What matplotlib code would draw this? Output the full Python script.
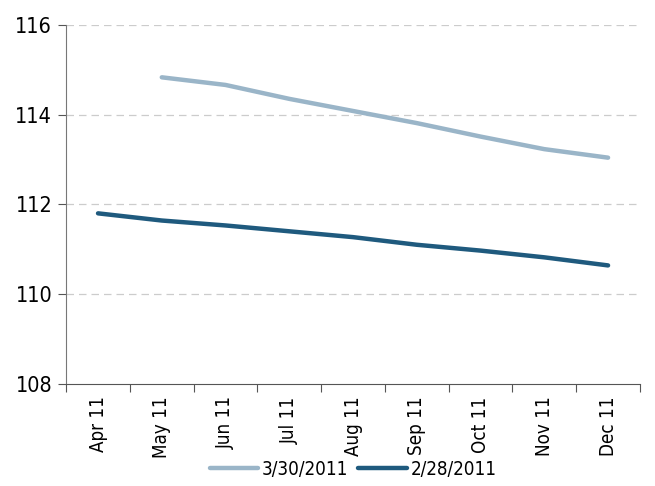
import matplotlib
matplotlib.use("Agg")
import matplotlib.pyplot as plt
import numpy as np

plt.rcParams['font.family'] = ['DejaVu Sans']
plt.rcParams['font.stretch'] = 'condensed'

months = ["Apr 11", "May 11", "Jun 11", "Jul 11", "Aug 11", "Sep 11", "Oct 11", "Nov 11", "Dec 11"]
curve_mar30 = [np.nan, 114.83, 114.66, 114.35, 114.08, 113.81, 113.51, 113.23, 113.04]
curve_feb28 = [111.80, 111.64, 111.53, 111.40, 111.27, 111.10, 110.97, 110.82, 110.64]

light = "#9ab5c8"
dark = "#1f5a7e"

fig = plt.figure(figsize=(6.55, 4.86), dpi=100)
ax = fig.add_axes([0.101, 0.21, 0.876, 0.739])

x = np.arange(len(months))
ax.plot(x, curve_mar30, color=light, lw=3.2, solid_capstyle="round", label="3/30/2011")
ax.plot(x, curve_feb28, color=dark, lw=3.2, solid_capstyle="round", label="2/28/2011")

ax.set_xlim(-0.5, len(months) - 0.5)
ax.set_ylim(108, 116)
ax.set_yticks([108, 110, 112, 114, 116])
ax.set_yticklabels(["108", "110", "112", "114", "116"], fontsize=15.5)
for yv in [110, 112, 114, 116]:
    ax.axhline(yv, color="#cccccc", lw=0.9, ls=(0, (6, 4)), zorder=0)

# ticks between categories, labels centred
ax.set_xticks(np.arange(-0.5, len(months), 1.0))
ax.set_xticklabels([])
ax.set_xticks(x, minor=True)
ax.set_xticklabels(months, minor=True, rotation=90, fontsize=13.5)
ax.tick_params(axis="x", which="minor", length=0, pad=9)
ax.tick_params(axis="x", which="major", length=6, direction="out", color="#555555")
ax.tick_params(axis="y", length=6, direction="out", color="#555555", pad=4)

for s in ["top", "right"]:
    ax.spines[s].set_visible(False)
ax.spines["left"].set_color("#777777")
ax.spines["bottom"].set_color("#555555")

ax.legend(loc="center", bbox_to_anchor=(0.5, -0.238), ncol=2, frameon=False,
          fontsize=13.5, handlelength=2.6, columnspacing=0.5, handletextpad=0.2,
          borderpad=0.0)

fig.savefig("out.png", dpi=100)
